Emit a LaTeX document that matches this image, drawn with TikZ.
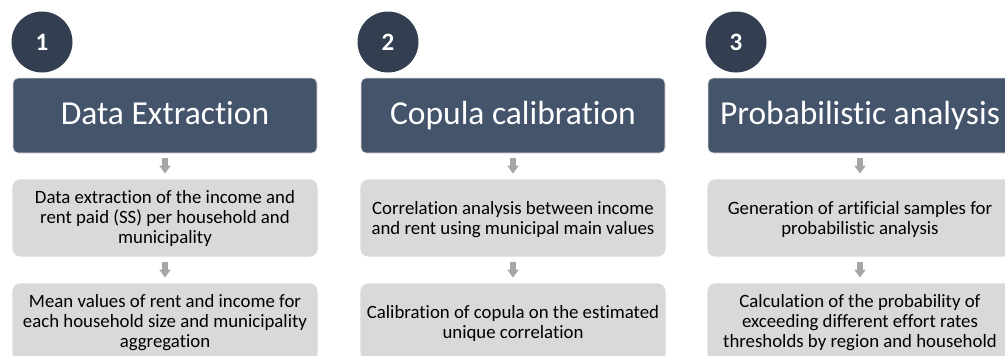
\documentclass[tikz,border=0pt]{standalone}
\usepackage{fontspec}
\setmainfont{Carlito}[Ligatures=NoCommon]
\usetikzlibrary{arrows.meta}
\definecolor{hdr}{HTML}{44546A}
\definecolor{circ}{HTML}{333F50}
\definecolor{boxg}{HTML}{D9D9D9}
\definecolor{arrg}{HTML}{A6A6A6}
\begin{document}
\begin{tikzpicture}[x=1pt,y=-1pt,
  num/.style={circle, fill=circ, minimum size=61pt, inner sep=0pt, text=white,
    text height=16.5pt, text depth=0pt,
    font=\bfseries\fontsize{25}{25}\selectfont},
  head/.style={rectangle, rounded corners=5pt, fill=hdr, draw=black!12, line width=0.8pt,
    minimum width=304pt, minimum height=75pt, text=white, text height=21.5pt, text depth=3.5pt,
    font=\fontsize{33.5}{36}\selectfont},
  stepbox/.style={rectangle, rounded corners=8pt, fill=boxg, draw=white, line width=0.8pt,
    minimum width=306pt, minimum height=78pt, align=center, inner ysep=0pt,
    font=\fontsize{18.8}{20}\selectfont},
  twolines/.style={text height=35pt, text depth=3pt},
  threelines/.style={text height=53pt, text depth=3pt},
  flow/.style={draw=arrg, line width=6pt, shorten <=5pt, shorten >=5pt,
    -{Triangle[width=11pt,length=8pt]}}]
\useasboundingbox (0,0) rectangle (1005,356);
\clip (0,0) rectangle (1005,356);
% column 1
\node[num] (n1) at (42,42) {1};
\node[head] (h1) at (165,115.5) {Data Extraction};
\node[stepbox, threelines] (a1) at (165,218) {Data extraction of the income and\\rent paid (SS) per household and\\municipality};
\node[stepbox, threelines] (b1) at (165,322) {Mean values of rent and income for\\each household size and municipality\\aggregation};
\draw[flow] (h1) -- (a1);
\draw[flow] (a1) -- (b1);
% column 2
\node[num] (n2) at (388,42) {2};
\node[head] (h2) at (513,115.5) {Copula calibration};
\node[stepbox, twolines] (a2) at (513,218) {Correlation analysis between income\\and rent using municipal main values};
\node[stepbox, twolines] (b2) at (513,322) {Calibration of copula on the estimated\\unique correlation};
\draw[flow] (h2) -- (a2);
\draw[flow] (a2) -- (b2);
% column 3
\node[num] (n3) at (736,42) {3};
\node[head] (h3) at (860,115.5) {Probabilistic analysis};
\node[stepbox, twolines] (a3) at (860,218) {Generation of artificial samples for\\probabilistic analysis};
\node[stepbox, threelines] (b3) at (860,322) {Calculation of the probability of\\exceeding different effort rates\\thresholds by region and household};
\draw[flow] (h3) -- (a3);
\draw[flow] (a3) -- (b3);
\end{tikzpicture}
\end{document}
